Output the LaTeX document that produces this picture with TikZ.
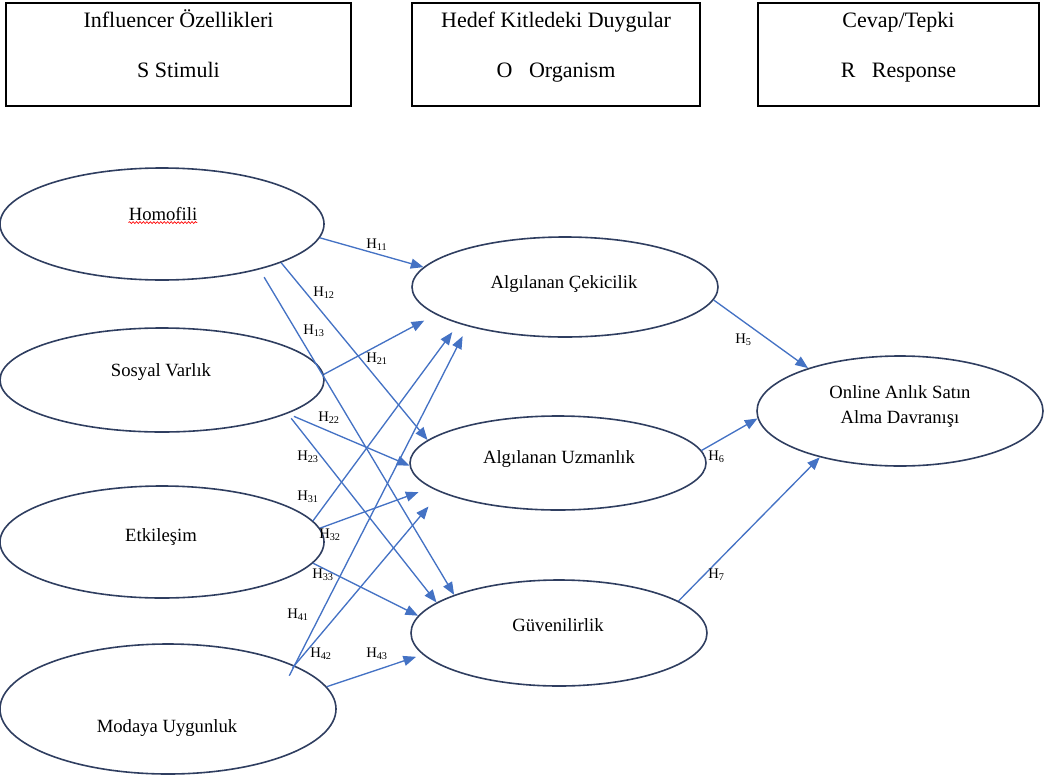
\documentclass[tikz,border=0pt]{standalone}
\usepackage{fontspec}
\setmainfont{Liberation Serif}
\usetikzlibrary{arrows.meta,shapes.geometric,decorations.pathmorphing}
\definecolor{ovalc}{RGB}{47,62,96}
\definecolor{arrc}{RGB}{68,114,196}

\begin{document}
\begin{tikzpicture}[x=0.75pt,y=-0.75pt,
  oval/.style={ellipse,draw=ovalc,line width=1.2pt,inner sep=0pt},
  box/.style={draw,line width=0.9pt,inner sep=0pt,minimum height=77.25pt},
  boxtxt/.style={font=\fontsize{16.5}{20}\selectfont,inner sep=0pt,anchor=base},
  lbl/.style={font=\fontsize{14}{18.75}\selectfont,inner sep=0pt,anchor=base,align=center},
  hyp/.style={font=\fontsize{11}{12}\selectfont,inner sep=0pt,anchor=base west},
  conn/.style={draw=arrc,line width=1pt,-{Triangle[length=9.5pt,width=7.5pt]}}]
\useasboundingbox (0,0) rectangle (1045,778);
% S-O-R header
\node[box,minimum width=258.75pt](bs) at (178.5,54.5){};\node[box,minimum width=216pt](bo) at (556,54.5){};\node[box,minimum width=210.75pt](br) at (898.5,54.5){};
\node[boxtxt](ts1) at (178.5,27){Influencer Özellikleri};\node[boxtxt](ts2) at (178.5,77){S Stimuli};
\node[boxtxt](to1) at (556,27){Hedef Kitledeki Duygular};\node[boxtxt](to2) at (556,77){O~~~Organism};
\node[boxtxt](tr1) at (898.5,27){Cevap/Tepki};\node[boxtxt](tr2) at (898.5,77){R~~~Response};
% constructs
\node[oval,minimum width=243pt,minimum height=84pt](homofili) at (162,224){};
\node[oval,minimum width=243pt,minimum height=78pt](sosyal) at (162,380){};
\node[oval,minimum width=243pt,minimum height=84pt](etkilesim) at (162,542){};
\node[oval,minimum width=252pt,minimum height=97.5pt](moda) at (168,709){};
\node[oval,minimum width=229.5pt,minimum height=75pt](cekici) at (565,287){};
\node[oval,minimum width=222pt,minimum height=70.5pt](uzman) at (558,463){};
\node[oval,minimum width=222pt,minimum height=79.5pt](guven) at (559,633){};
\node[oval,minimum width=214.5pt,minimum height=82.5pt](online) at (900,411){};
\node[lbl](thomo) at (163,220){Homofili};\node[lbl](tsos) at (161,376){Sosyal Varlık};
\node[lbl](tetk) at (161,541){Etkileşim};\node[lbl](tmoda) at (167,732){Modaya Uygunluk};
\node[lbl](tcek) at (564,288){Algılanan Çekicilik};\node[lbl](tuzm) at (559,463){Algılanan Uzmanlık};
\node[lbl](tguv) at (558,631){Güvenilirlik};\node[lbl,anchor=center](tonl) at (900,407){Online Anlık Satın\\Alma Davranışı};
\draw[red,line width=0.5pt,decorate,decoration={snake,amplitude=0.7pt,segment length=2.6pt}] ([yshift=-1.6pt]thomo.south west)--([yshift=-1.6pt]thomo.south east);
% hypotheses
\draw[conn](homofili.-5.4)--(cekici.172.3);\draw[conn](homofili.-18.6)--(uzman.170.8);\draw[conn,shorten <=6.75pt](homofili.-25.2)--(guven.160.3);
\draw[conn,shorten >=9.75pt](sosyal.2.5)--(cekici.192.6);\draw[conn,shorten <=5.25pt](sosyal.-15)--(uzman.181);\draw[conn,shorten <=4.5pt](sosyal.-15.6)--(guven.166.7);
\draw[conn,shorten >=7.9pt](etkilesim.8.6)--(cekici.199.5);\draw[conn,shorten >=9.75pt](etkilesim.5.3)--(uzman.191.8);\draw[conn](etkilesim.-8.7)--(guven.173.8);
\draw[conn,shorten <=-8.6pt,shorten >=8.25pt](moda.19)--(cekici.202);\draw[conn,shorten <=-2.25pt,shorten >=13.9pt](moda.19)--(uzman.194.8);\draw[conn,shorten >=5.25pt](moda.8.2)--(guven.189.2);
\draw[conn](cekici.-5.2)--(online.155);\draw[conn](uzman.5.2)--(online.183.7);\draw[conn](guven.15.3)--(online.210);
\node[hyp](h11) at (366,248){H\textsubscript{11}};\node[hyp](h12) at (313,296){H\textsubscript{12}};\node[hyp](h13) at (303,334){H\textsubscript{13}};
\node[hyp](h21) at (366,362){H\textsubscript{21}};\node[hyp](h22) at (318,421){H\textsubscript{22}};\node[hyp](h23) at (297,460){H\textsubscript{23}};
\node[hyp](h31) at (297,500){H\textsubscript{31}};\node[hyp](h32) at (319,538){H\textsubscript{32}};\node[hyp](h33) at (312,578){H\textsubscript{33}};
\node[hyp](h41) at (287,618){H\textsubscript{41}};\node[hyp](h42) at (310,657){H\textsubscript{42}};\node[hyp](h43) at (366,657){H\textsubscript{43}};
\node[hyp](h5) at (735,343){H\textsubscript{5}};\node[hyp](h6) at (708,460){H\textsubscript{6}};\node[hyp](h7) at (708,578){H\textsubscript{7}};
\end{tikzpicture}
\end{document}
